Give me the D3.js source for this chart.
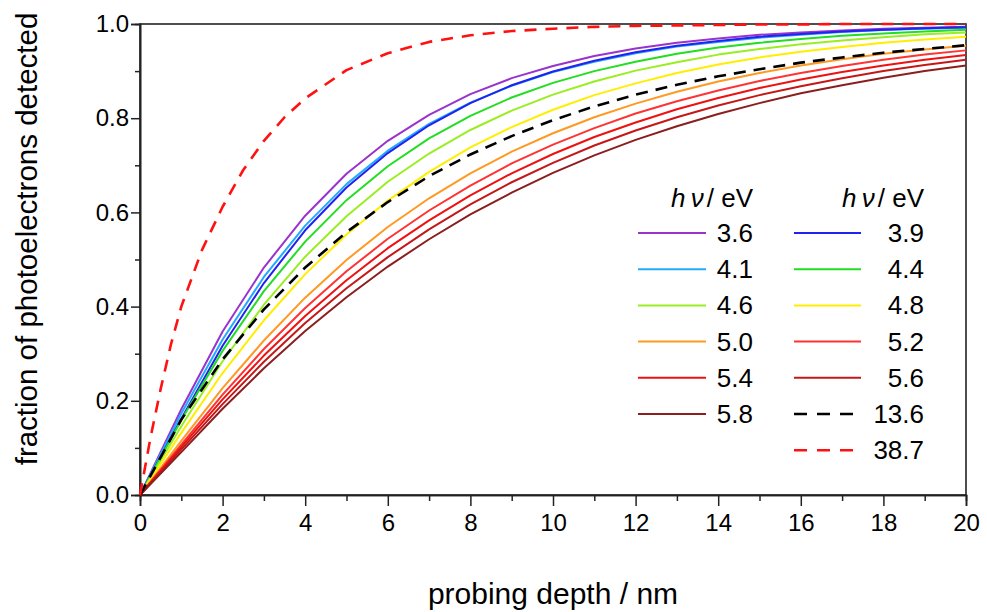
<!DOCTYPE html>
<html>
<head>
<meta charset="utf-8">
<script src="https://cdn.jsdelivr.net/npm/d3@7"></script>
<style>
  body { margin: 0; background: #fff; }
  text { font-family: "Liberation Sans", Arial, sans-serif; fill: #000; }
</style>
</head>
<body>
<svg id="chart" width="987" height="612"></svg>
<script>
// probing depth (nm) at which the curves were sampled
const depth = [0,1,2,3,4,5,6,7,8,9,10,11,12,13,14,15,16,17,18,19,20];
const depth387 = [0,0.25,0.5,0.75,1,1.5,2,2.5,3,3.5,4,5,6,7,8,9,10,11,12,13,14,15,16,17,18,19,20];

// fraction of photoelectrons detected, one array per photon energy
const f36 = [0,0.182,0.347,0.483,0.593,0.682,0.752,0.807,0.851,0.885,0.911,0.932,0.948,0.960,0.969,0.977,0.982,0.986,0.990,0.992,0.994];
const f39 = [0,0.162,0.317,0.450,0.562,0.653,0.726,0.785,0.832,0.870,0.899,0.922,0.940,0.954,0.964,0.973,0.979,0.984,0.988,0.991,0.993];
const f41 = [0,0.173,0.330,0.463,0.572,0.660,0.731,0.788,0.833,0.869,0.898,0.920,0.938,0.952,0.962,0.971,0.977,0.983,0.987,0.990,0.992];
const f44 = [0,0.159,0.306,0.433,0.538,0.626,0.698,0.757,0.805,0.844,0.875,0.900,0.920,0.937,0.950,0.960,0.968,0.975,0.980,0.984,0.988];
const f46 = [0,0.146,0.284,0.404,0.506,0.592,0.665,0.725,0.775,0.816,0.850,0.878,0.901,0.919,0.935,0.947,0.957,0.965,0.972,0.978,0.982];
const f48 = [0,0.132,0.259,0.371,0.469,0.553,0.625,0.686,0.738,0.781,0.818,0.849,0.874,0.896,0.914,0.929,0.941,0.951,0.960,0.967,0.973];
const f50 = [0,0.115,0.227,0.328,0.419,0.499,0.569,0.630,0.683,0.729,0.768,0.802,0.831,0.856,0.878,0.896,0.912,0.925,0.937,0.946,0.954];
const f52 = [0,0.107,0.213,0.310,0.397,0.475,0.544,0.604,0.657,0.704,0.744,0.779,0.810,0.836,0.859,0.879,0.896,0.911,0.924,0.935,0.944];
const f54 = [0,0.102,0.203,0.296,0.380,0.456,0.524,0.583,0.636,0.683,0.724,0.760,0.791,0.819,0.843,0.864,0.882,0.898,0.912,0.924,0.934];
const f56 = [0,0.097,0.193,0.283,0.365,0.439,0.505,0.564,0.617,0.664,0.705,0.742,0.774,0.802,0.827,0.849,0.868,0.885,0.900,0.913,0.924];
const f58 = [0,0.091,0.183,0.269,0.348,0.420,0.485,0.543,0.596,0.642,0.684,0.721,0.754,0.783,0.809,0.832,0.853,0.870,0.886,0.900,0.912];
const f136 = [0,0.160,0.288,0.394,0.483,0.558,0.622,0.677,0.723,0.762,0.796,0.825,0.850,0.871,0.889,0.904,0.918,0.929,0.939,0.947,0.955];
const f387 = [0,0.120,0.225,0.320,0.400,0.520,0.612,0.690,0.752,0.802,0.842,0.902,0.938,0.962,0.976,0.985,0.990,0.994,0.996,0.997,0.998,0.999,0.999,1.0,1.0,1.0,1.0];

const xTicks = [0,2,4,6,8,10,12,14,16,18,20];
const xMinor = [1,3,5,7,9,11,13,15,17,19];
const yTicks = [0,0.2,0.4,0.6,0.8,1.0];
const yMinor = [0.1,0.3,0.5,0.7,0.9];

// label, x, y, colour, dash, legend column, legend row
const series = [
  {label: "3.6",  x: depth, y: f36,  color: "#9933cc", dash: null, col: 0, row: 0},
  {label: "4.1",  x: depth, y: f41,  color: "#22aaff", dash: null, col: 0, row: 1},
  {label: "3.9",  x: depth, y: f39,  color: "#2222ee", dash: null, col: 1, row: 0},
  {label: "4.4",  x: depth, y: f44,  color: "#22dd22", dash: null, col: 1, row: 1},
  {label: "4.6",  x: depth, y: f46,  color: "#99ee22", dash: null, col: 0, row: 2},
  {label: "4.8",  x: depth, y: f48,  color: "#ffee00", dash: null, col: 1, row: 2},
  {label: "5.0",  x: depth, y: f50,  color: "#ff9922", dash: null, col: 0, row: 3},
  {label: "5.2",  x: depth, y: f52,  color: "#ff3333", dash: null, col: 1, row: 3},
  {label: "5.4",  x: depth, y: f54,  color: "#ee1111", dash: null, col: 0, row: 4},
  {label: "5.6",  x: depth, y: f56,  color: "#c41818", dash: null, col: 1, row: 4},
  {label: "5.8",  x: depth, y: f58,  color: "#8b1e1e", dash: null, col: 0, row: 5},
  {label: "13.6", x: depth, y: f136, color: "#000000", dash: "12,8", col: 1, row: 5},
  {label: "38.7", x: depth387, y: f387, color: "#ff1111", dash: "12,9", col: 1, row: 6}
];

const W = 987, H = 612;
const margin = {top: 24, right: 21, bottom: 117, left: 140};
const svg = d3.select("#chart");

const x = d3.scaleLinear().domain([0, 20]).range([margin.left, W - margin.right]);
const y = d3.scaleLinear().domain([0, 1]).range([H - margin.bottom, margin.top]);

// frame
svg.append("rect")
  .attr("x", x(0)).attr("y", y(1))
  .attr("width", x(20) - x(0)).attr("height", y(0) - y(1))
  .attr("fill", "none").attr("stroke", "#222").attr("stroke-width", 1.6);

// x axis
svg.append("g").attr("transform", `translate(0,${y(0)})`)
  .call(d3.axisBottom(x).tickValues(xTicks).tickSize(11).tickPadding(8).tickFormat(d3.format("d")));
svg.append("g").attr("transform", `translate(0,${y(0)})`)
  .call(d3.axisBottom(x).tickValues(xMinor).tickSize(6).tickFormat(""));

// y axis
svg.append("g").attr("transform", `translate(${x(0)},0)`)
  .call(d3.axisLeft(y).tickValues(yTicks).tickSize(9).tickPadding(2).tickFormat(d3.format(".1f")));
svg.append("g").attr("transform", `translate(${x(0)},0)`)
  .call(d3.axisLeft(y).tickValues(yMinor).tickSize(5).tickFormat(""));

svg.selectAll(".domain").attr("stroke", "#222").attr("stroke-width", 1.6);
svg.selectAll(".tick line").attr("stroke", "#222").attr("stroke-width", 1.5);
svg.selectAll(".tick text").attr("font-size", 24).attr("font-family", "Liberation Sans, Arial, sans-serif");

// axis titles
svg.append("text")
  .attr("x", (x(0) + x(20)) / 2).attr("y", 604)
  .attr("text-anchor", "middle").attr("font-size", 30)
  .text("probing depth / nm");

svg.append("text")
  .attr("transform", `translate(37,239) rotate(-90)`)
  .attr("text-anchor", "middle").attr("font-size", 29.5)
  .text("fraction of photoelectrons detected");

// curves
const line = d3.line()
  .x(d => x(d[0]))
  .y(d => y(d[1]));

svg.append("g").selectAll("path.curve")
  .data(series)
  .enter()
  .append("path")
  .attr("class", "curve")
  .attr("d", s => line(s.x.map((v, i) => [v, s.y[i]])))
  .attr("fill", "none")
  .attr("stroke", s => s.color)
  .attr("stroke-width", s => s.dash ? 2.6 : 2)
  .attr("stroke-dasharray", s => s.dash)
  .attr("stroke-linejoin", "round");

// legend
const legCol = [{x0: 638, x1: 706, tx: 753}, {x0: 794, x1: 861, tx: 924}];
const legTop = 233, legStep = 36.2, headY = 207;

legCol.forEach(c => {
  const t = svg.append("text")
    .attr("x", c.tx).attr("y", headY)
    .attr("text-anchor", "end").attr("font-size", 26);
  t.append("tspan").attr("font-style", "italic").text("h\u2009\u03bd");
  t.append("tspan").text("/ eV").attr("dx", 3);
});

const item = svg.append("g").selectAll("g.item")
  .data(series)
  .enter()
  .append("g")
  .attr("class", "item");

item.append("line")
  .attr("x1", s => legCol[s.col].x0).attr("x2", s => legCol[s.col].x1)
  .attr("y1", s => legTop + s.row * legStep).attr("y2", s => legTop + s.row * legStep)
  .attr("stroke", s => s.color)
  .attr("stroke-width", s => s.dash ? 2.6 : 2)
  .attr("stroke-dasharray", s => s.dash ? "13,10" : null);

item.append("text")
  .attr("x", s => legCol[s.col].tx)
  .attr("y", s => legTop + s.row * legStep + 9)
  .attr("text-anchor", "end").attr("font-size", 26)
  .text(s => s.label);
</script>
</body>
</html>
